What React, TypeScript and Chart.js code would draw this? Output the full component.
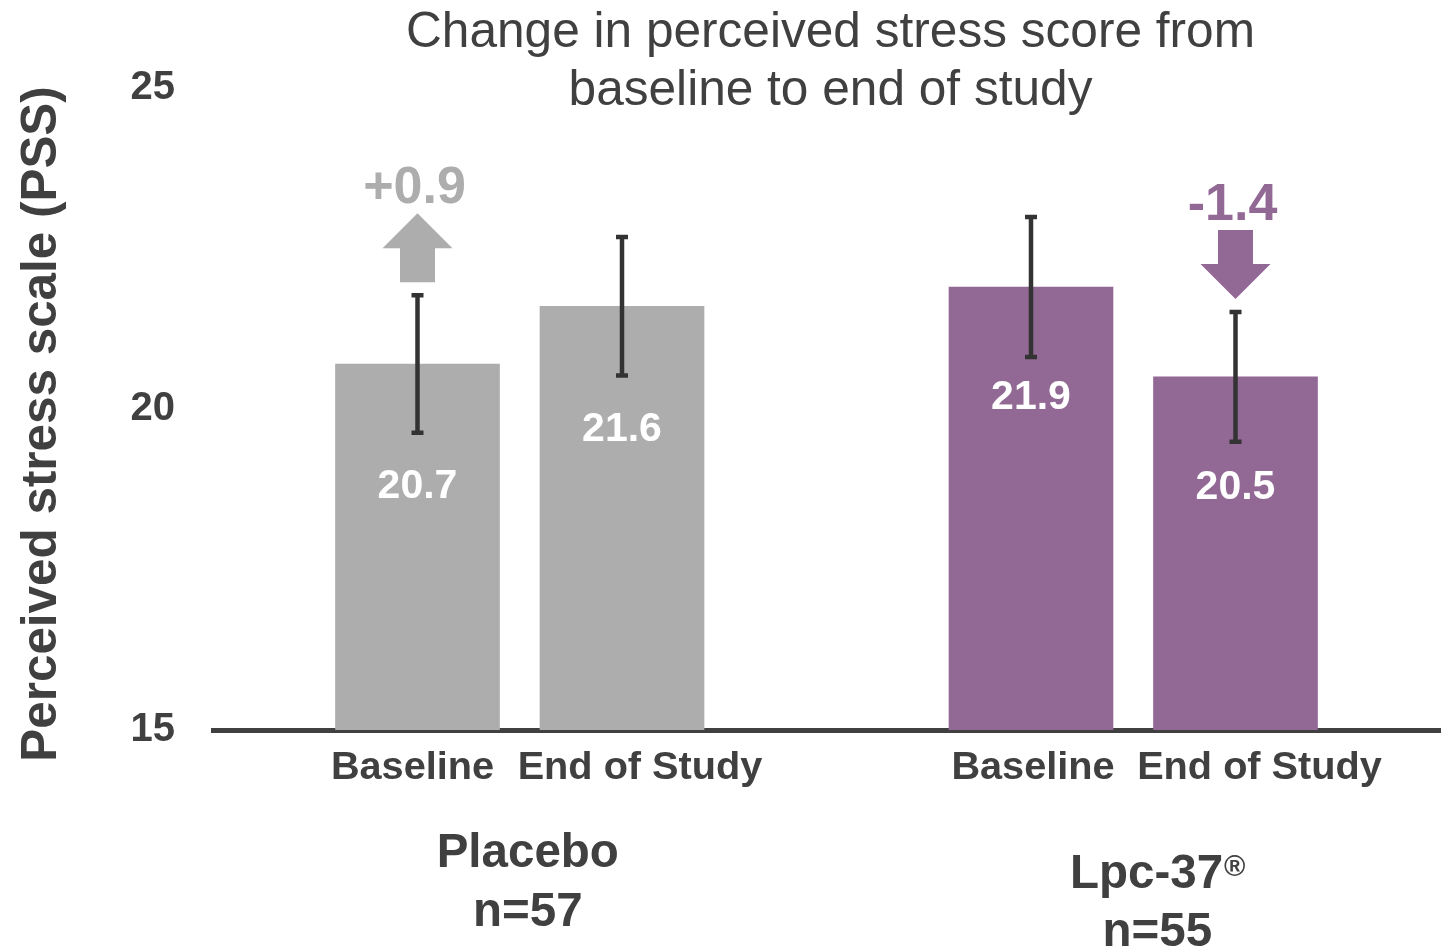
import React, { useEffect, useRef } from 'react';
import { Chart, registerables } from 'chart.js';

Chart.register(...registerables);

// ---- data ----
const categories = ['', 'Baseline', 'End of Study', '', 'Baseline', 'End of Study', ''];
const placeboMeans = [null, 20.7, 21.6, null, null, null, null];
const placeboErrors = [null, 1.07, 1.08, null, null, null, null];
const lpcMeans = [null, null, null, null, 21.9, 20.5, null];
const lpcErrors = [null, null, null, null, 1.09, 1.01, null];
const yTickValues = [15, 20, 25];
const groupNames = ['Placebo', 'Lpc-37'];
const groupSizes = ['n=57', 'n=55'];
const changeLabels = ['+0.9', '-1.4'];
const titleLines = ['Change in perceived stress score from', 'baseline to end of study'];
const yAxisTitle = 'Perceived stress scale (PSS)';

// ---- styles ----
const FONT = "'Liberation Sans', Arial, Helvetica, sans-serif";
const TEXT = '#404040';
const GREY = '#ADADAD';
const PURPLE = '#926995';

function drawArrow(ctx: CanvasRenderingContext2D, cx: number, top: number, up: boolean, color: string) {
  const H = 69, headH = 35, headW = 70, shaftW = 35;
  ctx.fillStyle = color;
  ctx.beginPath();
  if (up) {
    ctx.moveTo(cx, top);
    ctx.lineTo(cx + headW / 2, top + headH);
    ctx.lineTo(cx + shaftW / 2, top + headH);
    ctx.lineTo(cx + shaftW / 2, top + H);
    ctx.lineTo(cx - shaftW / 2, top + H);
    ctx.lineTo(cx - shaftW / 2, top + headH);
    ctx.lineTo(cx - headW / 2, top + headH);
  } else {
    ctx.moveTo(cx - shaftW / 2, top);
    ctx.lineTo(cx + shaftW / 2, top);
    ctx.lineTo(cx + shaftW / 2, top + H - headH);
    ctx.lineTo(cx + headW / 2, top + H - headH);
    ctx.lineTo(cx, top + H);
    ctx.lineTo(cx - headW / 2, top + H - headH);
    ctx.lineTo(cx - shaftW / 2, top + H - headH);
  }
  ctx.closePath();
  ctx.fill();
}

const overlayPlugin = {
  id: 'overlay',
  afterDatasetsDraw(chart: any) {
    const ctx: CanvasRenderingContext2D = chart.ctx;
    const xs = chart.scales.x;
    const ys = chart.scales.y;
    const sets = [
      { means: placeboMeans, errs: placeboErrors, labelOff: 123, color: GREY, arrowIdx: 1, up: true, change: changeLabels[0] },
      { means: lpcMeans, errs: lpcErrors, labelOff: 111, color: PURPLE, arrowIdx: 5, up: false, change: changeLabels[1] },
    ];
    ctx.save();
    sets.forEach((s) => {
      s.means.forEach((m, i) => {
        if (m == null) return;
        const e = s.errs[i] as number;
        const px = xs.getPixelForValue(i);
        const yt = ys.getPixelForValue(m + e);
        const yb = ys.getPixelForValue(m - e);
        ctx.strokeStyle = '#333333';
        ctx.lineWidth = 4.5;
        ctx.lineCap = 'butt';
        ctx.beginPath();
        ctx.moveTo(px, yt);
        ctx.lineTo(px, yb);
        ctx.moveTo(px - 6, yt);
        ctx.lineTo(px + 6, yt);
        ctx.moveTo(px - 6, yb);
        ctx.lineTo(px + 6, yb);
        ctx.stroke();

        ctx.fillStyle = '#FFFFFF';
        ctx.font = `bold 41px ${FONT}`;
        ctx.textAlign = 'center';
        ctx.textBaseline = 'middle';
        ctx.fillText((m as number).toFixed(1), px, ys.getPixelForValue(m) + s.labelOff);

        if (i === s.arrowIdx) {
          const bottom = yt - 13;
          const top = bottom - 69;
          drawArrow(ctx, px, top, s.up, s.color);
          ctx.fillStyle = s.color;
          ctx.font = `bold 52px ${FONT}`;
          ctx.textAlign = 'center';
          ctx.textBaseline = 'alphabetic';
          ctx.fillText(s.change, px - 3, top - 10);
        }
      });
    });
    ctx.restore();
  },
  afterDraw(chart: any) {
    const ctx: CanvasRenderingContext2D = chart.ctx;
    const area = chart.chartArea;
    const xs = chart.scales.x;
    ctx.save();

    // x category labels (Baseline near its bar, End of Study shifted right as in the source)
    ctx.fillStyle = TEXT;
    ctx.font = `bold 39.7px ${FONT}`;
    ctx.textAlign = 'center';
    ctx.textBaseline = 'middle';
    categories.forEach((c, i) => {
      if (!c) return;
      const firstGroup = i < 3;
      const shift = c === 'Baseline' ? (firstGroup ? -5 : 2) : (firstGroup ? 18 : 24);
      ctx.fillText(c, xs.getPixelForValue(i) + shift, area.bottom + 38);
    });

    // title
    ctx.font = `normal 49.6px ${FONT}`;
    ctx.textAlign = 'center';
    ctx.textBaseline = 'middle';
    const tcx = (area.left + area.right) / 2 + 4;
    ctx.fillText(titleLines[0], tcx, 33);
    ctx.fillText(titleLines[1], tcx, 91);

    // y axis title
    ctx.save();
    ctx.translate(42, 424);
    ctx.rotate(-Math.PI / 2);
    ctx.font = `bold 49.4px ${FONT}`;
    ctx.textAlign = 'center';
    ctx.textBaseline = 'middle';
    ctx.fillText(yAxisTitle, 0, 0);
    ctx.restore();

    // group labels
    const g1 = (xs.getPixelForValue(1) + xs.getPixelForValue(2)) / 2 + 8;
    const g2 = (xs.getPixelForValue(4) + xs.getPixelForValue(5)) / 2 + 24;
    ctx.font = `bold 47.5px ${FONT}`;
    ctx.textAlign = 'center';
    ctx.textBaseline = 'alphabetic';
    ctx.fillText(groupNames[0], g1, 867);
    ctx.fillText(groupSizes[0], g1, 926);

    // Lpc-37 with superscript ®
    const mainW = ctx.measureText(groupNames[1]).width;
    ctx.font = `bold 29px ${FONT}`;
    const supW = ctx.measureText('®').width;
    const startX = g2 - (mainW + supW) / 2;
    ctx.textAlign = 'left';
    ctx.font = `bold 47.5px ${FONT}`;
    ctx.fillText(groupNames[1], startX, 888);
    ctx.font = `bold 29px ${FONT}`;
    ctx.fillText('®', startX + mainW + 1, 876);
    ctx.font = `bold 47.5px ${FONT}`;
    ctx.textAlign = 'center';
    ctx.fillText(groupSizes[1], g2, 946);
    ctx.restore();
  },
};

export default function App() {
  const ref = useRef<HTMLCanvasElement>(null);
  useEffect(() => {
    document.body.style.margin = '0';
    const chart = new Chart(ref.current as HTMLCanvasElement, {
      type: 'bar',
      data: {
        labels: categories,
        datasets: [
          { label: 'Placebo', data: placeboMeans as any, backgroundColor: GREY, grouped: false, barThickness: 164 } as any,
          { label: 'Lpc-37', data: lpcMeans as any, backgroundColor: PURPLE, grouped: false, barThickness: 164 } as any,
        ],
      },
      options: {
        responsive: false,
        animation: false,
        layout: { padding: { top: 88, right: 5, left: 0, bottom: 0 } },
        plugins: {
          legend: { display: false },
          tooltip: { enabled: false },
          title: { display: false },
        },
        scales: {
          x: {
            type: 'category',
            offset: false,
            z: 1,
            grid: { display: false, drawTicks: false },
            border: { display: true, color: TEXT, width: 5 },
            ticks: { display: false, padding: 0 },
            afterFit: (s: any) => { s.height = 220; s.paddingLeft = 0; s.paddingRight = 0; },
          },
          y: {
            min: 15,
            max: 25,
            grid: { display: false, drawTicks: false },
            border: { display: false },
            ticks: {
              color: TEXT,
              font: { family: FONT, size: 40, weight: 'bold' },
              padding: 38,
            },
            afterBuildTicks: (s: any) => { s.ticks = yTickValues.map((v) => ({ value: v })); },
            afterFit: (s: any) => { s.width = 213; },
          },
        },
      } as any,
      plugins: [overlayPlugin],
    });
    return () => chart.destroy();
  }, []);
  return (
    <div style={{ position: 'relative', width: 1445, height: 950 }}>
      <canvas ref={ref} width={1445} height={950} style={{ display: 'block', width: 1445, height: 950 }} />
    </div>
  );
}
